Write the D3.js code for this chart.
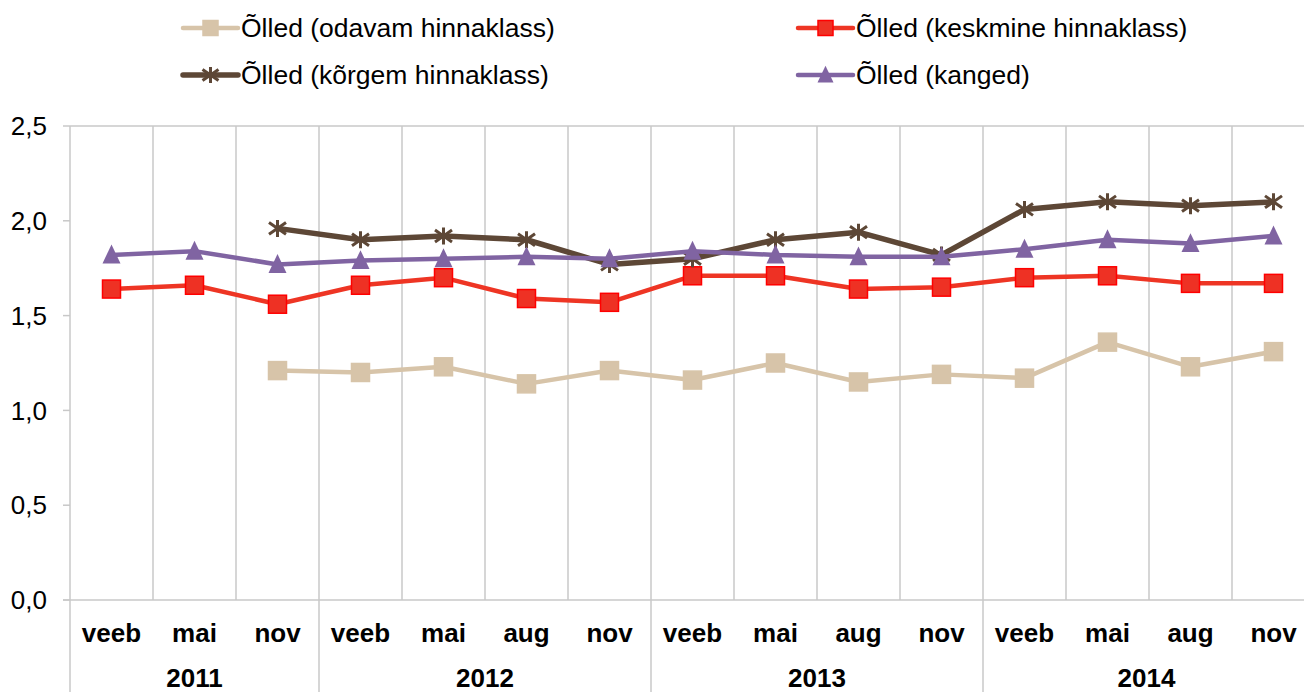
<!DOCTYPE html>
<html>
<head>
<meta charset="utf-8">
<script src="https://cdn.jsdelivr.net/npm/d3@7"></script>
<style>
  body { margin: 0; background: #fff; }
  svg { display: block; font-family: "Liberation Sans", Arial, sans-serif; }
</style>
</head>
<body>
<div id="chart"></div>
<script>
// categories
const months = ["veeb", "mai", "nov", "veeb", "mai", "aug", "nov", "veeb", "mai", "aug", "nov", "veeb", "mai", "aug", "nov"];
const years = [
    { label: "2011", from: 0, to: 3 },
    { label: "2012", from: 3, to: 7 },
    { label: "2013", from: 7, to: 11 },
    { label: "2014", from: 11, to: 15 }
];
const yTicks = [0, 0.5, 1, 1.5, 2, 2.5];

// series values (null = no data)
const odavam = [null, null, 1.21, 1.20, 1.23, 1.14, 1.21, 1.16, 1.25, 1.15, 1.19, 1.17, 1.36, 1.23, 1.31];
const keskmine = [1.64, 1.66, 1.56, 1.66, 1.70, 1.59, 1.57, 1.71, 1.71, 1.64, 1.65, 1.70, 1.71, 1.67, 1.67];
const korgem = [null, null, 1.96, 1.90, 1.92, 1.90, 1.77, 1.80, 1.90, 1.94, 1.82, 2.06, 2.10, 2.08, 2.10];
const kanged = [1.82, 1.84, 1.77, 1.79, 1.80, 1.81, 1.80, 1.84, 1.82, 1.81, 1.81, 1.85, 1.90, 1.88, 1.92];

const series = [
    { name: "Õlled (odavam hinnaklass)", values: odavam, color: "#D7C4A9", marker: "square", fill: "#D7C4A9", stroke: "#D7C4A9", width: 4.5 },
    { name: "Õlled (keskmine hinnaklass)", values: keskmine, color: "#EE3524", marker: "square", fill: "#EE3124", stroke: "#FF0000", width: 4.5 },
    { name: "Õlled (kõrgem hinnaklass)", values: korgem, color: "#5D4736", marker: "star", fill: "none", stroke: "#5D4736", width: 5.5 },
    { name: "Õlled (kanged)", values: kanged, color: "#8064A2", marker: "triangle", fill: "#8064A2", stroke: "#8064A2", width: 4.5 }
];

const W = 1304, H = 692;
const plotLeft = 70, plotRight = 1315, plotTop = 126, plotBottom = 600;
const gridColor = "#C8C8C8";
const fontSize = 26;

const svg = d3.select("#chart").append("svg")
    .attr("width", W)
    .attr("height", H);

const x = d3.scaleBand()
    .domain(d3.range(months.length))
    .range([plotLeft, plotRight])
    .padding(0);

const y = d3.scaleLinear()
    .domain([0, 2.5])
    .range([plotBottom, plotTop]);

const cx = i => x(i) + x.bandwidth() / 2;

// vertical grid lines (category boundaries)
const yearStarts = years.map(d => d.from).concat([months.length]);
svg.append("g").selectAll("line")
    .data(d3.range(1, months.length))
    .join("line")
    .attr("x1", i => x(i)).attr("x2", i => x(i))
    .attr("y1", plotTop)
    .attr("y2", i => yearStarts.includes(i) ? H : plotBottom)
    .attr("stroke", gridColor)
    .attr("stroke-width", 1.5);

// y axis line
svg.append("line")
    .attr("x1", plotLeft).attr("x2", plotLeft)
    .attr("y1", plotTop).attr("y2", H)
    .attr("stroke", gridColor).attr("stroke-width", 1.5);

// top border and baseline
svg.append("line")
    .attr("x1", plotLeft).attr("x2", W)
    .attr("y1", y(2.5)).attr("y2", y(2.5))
    .attr("stroke", gridColor).attr("stroke-width", 1.5);
svg.append("line")
    .attr("x1", plotLeft - 7).attr("x2", W)
    .attr("y1", y(0)).attr("y2", y(0))
    .attr("stroke", gridColor).attr("stroke-width", 1.5);

// y ticks + labels
const yAxis = svg.append("g");
yAxis.selectAll("line")
    .data(yTicks)
    .join("line")
    .attr("x1", plotLeft - 7).attr("x2", plotLeft)
    .attr("y1", d => y(d)).attr("y2", d => y(d))
    .attr("stroke", gridColor).attr("stroke-width", 1.5);
yAxis.selectAll("text")
    .data(yTicks)
    .join("text")
    .attr("x", 47)
    .attr("y", d => y(d))
    .attr("dy", "0.35em")
    .attr("text-anchor", "end")
    .attr("font-size", fontSize)
    .attr("fill", "#000")
    .text(d => d3.format(".1f")(d).replace(".", ","));

// month labels
svg.append("g").selectAll("text")
    .data(months)
    .join("text")
    .attr("x", (d, i) => cx(i))
    .attr("y", 633)
    .attr("dy", "0.35em")
    .attr("text-anchor", "middle")
    .attr("font-size", fontSize)
    .attr("font-weight", "bold")
    .text(d => d);

// year labels
svg.append("g").selectAll("text")
    .data(years)
    .join("text")
    .attr("x", d => (x(d.from) + Math.min(x(d.to - 1) + x.bandwidth(), W)) / 2 + (d.to === months.length ? 3 : 0))
    .attr("y", 678)
    .attr("dy", "0.35em")
    .attr("text-anchor", "middle")
    .attr("font-size", fontSize)
    .attr("font-weight", "bold")
    .text(d => d.label);

function drawMarker(g, s, size) {
    if (s.marker === "square") {
        g.append("rect")
            .attr("x", -size / 2).attr("y", -size / 2)
            .attr("width", size).attr("height", size)
            .attr("fill", s.fill).attr("stroke", s.stroke).attr("stroke-width", 1.5);
    } else if (s.marker === "triangle") {
        const h = size * 1.05;
        g.append("path")
            .attr("d", `M0,${-h * 0.55}L${size / 2},${h * 0.45}L${-size / 2},${h * 0.45}Z`)
            .attr("fill", s.fill);
    } else if (s.marker === "star") {
        const r = size / 2;
        g.append("path")
            .attr("d", `M0,${-r}V${r}M${-r},${-r * 0.7}L${r},${r * 0.7}M${-r},${r * 0.7}L${r},${-r * 0.7}`)
            .attr("fill", "none").attr("stroke", s.stroke).attr("stroke-width", 3);
    }
}

const line = d3.line()
    .defined(d => d != null)
    .x((d, i) => cx(i))
    .y(d => y(d));

// series lines + markers
series.forEach(s => {
    svg.append("path")
        .datum(s.values)
        .attr("d", line)
        .attr("fill", "none")
        .attr("stroke", s.color)
        .attr("stroke-width", s.width)
        .attr("stroke-linejoin", "round");

    svg.append("g").selectAll("g")
        .data(s.values.map((v, i) => ({ v, i })).filter(d => d.v != null))
        .join("g")
        .attr("transform", d => `translate(${cx(d.i)},${y(d.v)})`)
        .each(function () {
            drawMarker(d3.select(this), s, s.marker === "star" ? 17 : 18);
        });
});

// legend
const legendPos = [
    { x: 183, y: 28 }, { x: 798, y: 28 },
    { x: 183, y: 75 }, { x: 798, y: 75 }
];
const legend = svg.append("g").selectAll("g")
    .data(series)
    .join("g")
    .attr("transform", (d, i) => `translate(${legendPos[i].x},${legendPos[i].y})`);

legend.append("line")
    .attr("x1", 0).attr("x2", 55)
    .attr("stroke", d => d.color)
    .attr("stroke-width", d => d.width)
    .attr("stroke-linecap", "round");
legend.each(function (d) {
    const g = d3.select(this).append("g").attr("transform", "translate(27.5,0)");
    drawMarker(g, d, d.marker === "square" ? 15 : 16);
});
legend.append("text")
    .attr("x", 58)
    .attr("dy", "0.35em")
    .attr("font-size", 26.5)
    .text(d => d.name);
</script>
</body>
</html>
